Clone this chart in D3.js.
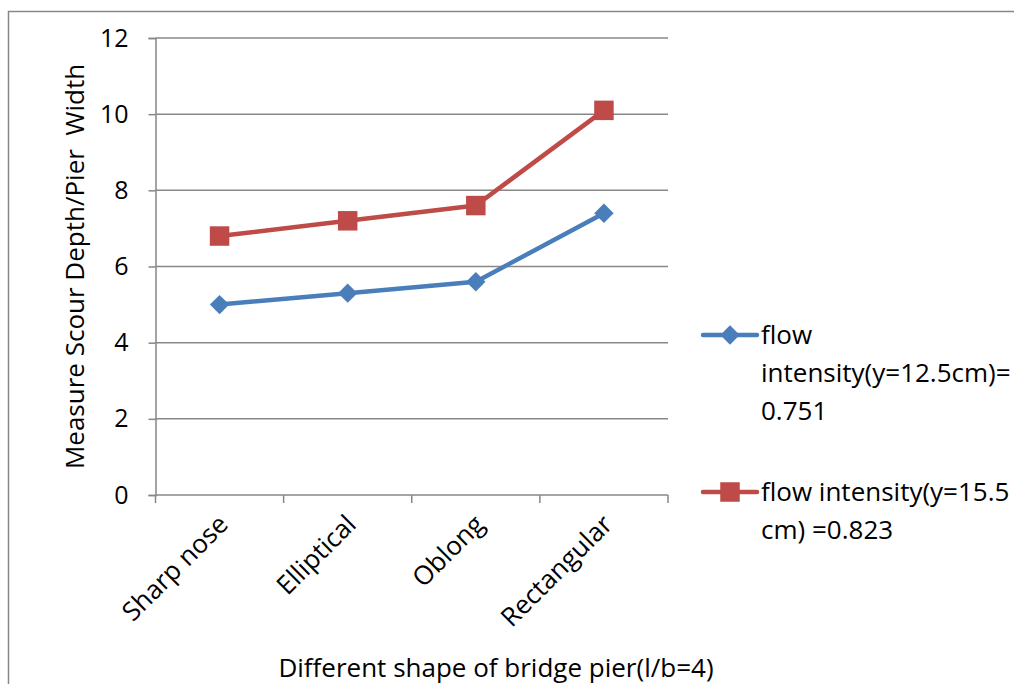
<!DOCTYPE html>
<html>
<head>
<meta charset="utf-8">
<script src="https://cdn.jsdelivr.net/npm/d3@7"></script>
<style>
  html, body { margin: 0; padding: 0; background: #fff; }
  svg { display: block; font-family: "Open Sans", Lato, sans-serif; }
</style>
</head>
<body>
<svg id="chart" width="1014" height="684"></svg>
<script>
// Pier shapes along the x axis
const categories = ["Sharp nose", "Elliptical", "Oblong", "Rectangular"];
// Measured scour depth / pier width for each flow intensity
const seriesLow = [5.0, 5.3, 5.6, 7.4];
const seriesHigh = [6.8, 7.2, 7.6, 10.1];
const yTicks = [0, 2, 4, 6, 8, 10, 12];
const legendLow = ["flow", "intensity(y=12.5cm)=", "0.751"];
const legendHigh = ["flow intensity(y=15.5", "cm) =0.823"];

const svg = d3.select("#chart");
const gridColor = "#878787";
const blue = "#4A7EBB";
const red = "#BE4B48";
const fontSize = 25;
const labelSize = 26;

// Outer chart frame
svg.append("rect")
  .attr("x", 8.5).attr("y", 11.5)
  .attr("width", 1020).attr("height", 700)
  .attr("fill", "none").attr("stroke", gridColor).attr("stroke-width", 1.5);

const plotLeft = 155.5, plotRight = 668, plotTop = 38, plotBottom = 495;

const x = d3.scaleBand().domain(categories).range([plotLeft, plotRight]).padding(0);
const y = d3.scaleLinear().domain([0, 12]).range([plotBottom, plotTop]);

// Horizontal gridlines
svg.append("g").selectAll("line").data(yTicks.filter(d => d > 0)).join("line")
  .attr("x1", plotLeft).attr("x2", plotRight)
  .attr("y1", d => y(d)).attr("y2", d => y(d))
  .attr("stroke", gridColor).attr("stroke-width", 1.5);

// Y axis
const yAxis = svg.append("g")
  .attr("transform", `translate(${plotLeft},0)`)
  .call(d3.axisLeft(y).tickValues(yTicks).tickSize(7).tickPadding(20).tickFormat(d3.format("d")));
yAxis.select(".domain").attr("stroke", gridColor).attr("stroke-width", 1.5);
yAxis.selectAll(".tick line").attr("stroke", gridColor).attr("stroke-width", 1.5);
yAxis.selectAll(".tick text").attr("font-size", fontSize).attr("fill", "#000")
  .attr("font-family", "'Open Sans', sans-serif");

// X axis with tick marks on band edges
const xAxisG = svg.append("g");
xAxisG.append("line")
  .attr("x1", plotLeft).attr("x2", plotRight).attr("y1", plotBottom).attr("y2", plotBottom)
  .attr("stroke", gridColor).attr("stroke-width", 1.5);
const edges = categories.map(c => x(c)).concat([x(categories[categories.length - 1]) + x.bandwidth()]);
xAxisG.selectAll("line.tick").data(edges).join("line")
  .attr("class", "tick")
  .attr("x1", d => d).attr("x2", d => d)
  .attr("y1", plotBottom).attr("y2", plotBottom + 8)
  .attr("stroke", gridColor).attr("stroke-width", 1.5);

// Rotated category labels
xAxisG.selectAll("text").data(categories).join("text")
  .attr("transform", d => `translate(${x(d) + x.bandwidth() / 2 + 10},${plotBottom + 31}) rotate(-45)`)
  .attr("text-anchor", "end")
  .attr("font-size", labelSize)
  .attr("fill", "#000")
  .text(d => d);

// Series lines and markers
const line = d3.line()
  .x((d, i) => x(categories[i]) + x.bandwidth() / 2)
  .y(d => y(d));

function drawSeries(values, color, shape) {
  const g = svg.append("g");
  g.append("path").datum(values)
    .attr("d", line)
    .attr("fill", "none").attr("stroke", color).attr("stroke-width", 4.5)
    .attr("stroke-linejoin", "round");
  g.selectAll("path.m").data(values).join("path")
    .attr("class", "m")
    .attr("transform", (d, i) => `translate(${x(categories[i]) + x.bandwidth() / 2},${y(d)})`)
    .attr("d", d3.symbol().type(shape).size(shape === d3.symbolSquare ? 380 : 240)())
    .attr("fill", color);
}
drawSeries(seriesLow, blue, d3.symbolDiamond2);
drawSeries(seriesHigh, red, d3.symbolSquare);

// Axis titles
svg.append("text")
  .attr("transform", `translate(84,${(plotTop + plotBottom) / 2}) rotate(-90)`)
  .attr("text-anchor", "middle").attr("font-size", labelSize).attr("fill", "#000")
  .style("white-space", "pre")
  .text("Measure Scour Depth/Pier  Width");
svg.append("text")
  .attr("x", 496).attr("y", 677)
  .attr("text-anchor", "middle").attr("font-size", labelSize).attr("fill", "#000")
  .text("Different shape of bridge pier(l/b=4)");

// Legend
function legendItem(cy, color, shape, lines) {
  const g = svg.append("g");
  g.append("line").attr("x1", 703).attr("x2", 757).attr("y1", cy).attr("y2", cy)
    .attr("stroke", color).attr("stroke-width", 4.5).attr("stroke-linecap", "round");
  g.append("path")
    .attr("transform", `translate(730,${cy})`)
    .attr("d", d3.symbol().type(shape).size(shape === d3.symbolSquare ? 380 : 240)())
    .attr("fill", color);
  g.selectAll("text").data(lines).join("text")
    .attr("x", 761).attr("y", (d, i) => cy + 9 + i * 38)
    .attr("font-size", labelSize).attr("fill", "#000")
    .text(d => d);
}
legendItem(335, blue, d3.symbolDiamond2, legendLow);
legendItem(492, red, d3.symbolSquare, legendHigh);
</script>
</body>
</html>
